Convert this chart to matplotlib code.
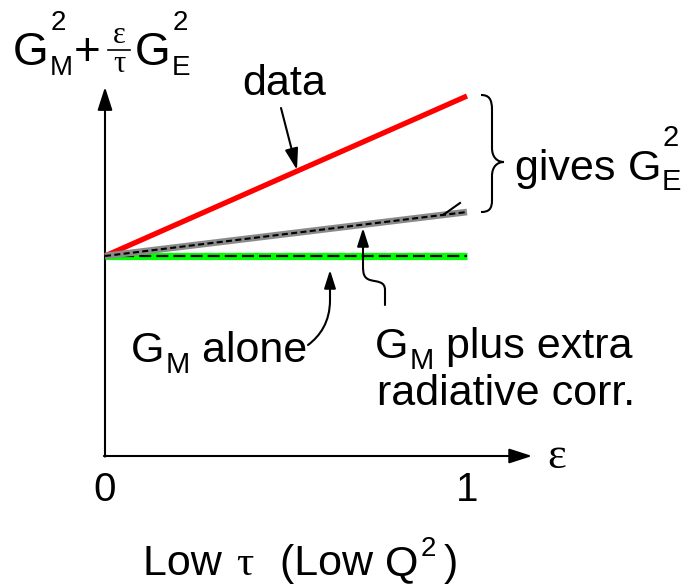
import matplotlib
matplotlib.use("Agg")
import matplotlib.pyplot as plt
from matplotlib.path import Path
from matplotlib.patches import PathPatch, FancyArrowPatch

plt.rcParams["font.family"] = ["Liberation Sans", "DejaVu Sans"]

# epsilon range and the three straight-line cross sections
eps = [0.0, 1.0]
data_line = [1.0, 1.80]        # measured: G_M^2 + (eps/tau) G_E^2
gm_radcorr = [1.0, 1.22]       # G_M plus extra radiative correction
gm_alone = [1.0, 1.0]          # G_M alone
tick_vals = [0, 1]
tick_labels = ["0", "1"]

W, H = 690, 585
fig = plt.figure(figsize=(W / 100, H / 100), dpi=100)
ax = fig.add_axes([0, 0, 1, 1])
ax.set_xlim(-105 / 362, (W - 105) / 362)
ax.set_ylim(-(H - 456) / 200, 456 / 200)
ax.axis("off")
renderer = fig.canvas.get_renderer()
FT = fig.transFigure
LW = 1.5
SANS = "Liberation Sans"
SERIF = "Liberation Serif"


def px(x, y):
    """Figure-fraction position from pixel coordinates (top-left origin)."""
    return (x / W, 1 - y / H)


def put(x, y, s, fs, family=SANS, ha="left"):
    t = fig.text(*px(x, y), s, fontsize=fs, family=family, ha=ha, va="baseline")
    return t.get_window_extent(renderer).x1


def sym(x, y, base, sub, sup, fs, sfs, sub_dy=10, sup_dy=-35):
    """Letter with stacked subscript and superscript; returns right edge."""
    xe = put(x, y, base, fs)
    r1 = put(xe + 1, y + sub_dy, sub, sfs) if sub else xe
    r2 = put(xe + 2, y + sup_dy, sup, sfs) if sup else xe
    return max(r1, r2)


# axes with arrow heads
astyle = "-|>,head_length=1.4,head_width=0.45"
ax.annotate("", xy=(1.18, 0), xytext=(-0.003, 0),
            arrowprops=dict(arrowstyle=astyle, lw=LW, color="k",
                            shrinkA=0, shrinkB=0, mutation_scale=10))
ax.annotate("", xy=(0, 1.845), xytext=(0, -0.003),
            arrowprops=dict(arrowstyle=astyle, lw=LW, color="k",
                            shrinkA=0, shrinkB=0, mutation_scale=10))

# the three lines
ax.plot(eps, data_line, color="#ff0000", lw=3.8, solid_capstyle="butt", zorder=3)
ax.plot(eps, gm_alone, color="#00ff00", lw=5.2, solid_capstyle="butt", zorder=3)
ax.plot(eps, gm_alone, color="k", lw=1.6, dashes=(5.4, 2.3), zorder=4)
ax.plot(eps, gm_radcorr, color="#8a8a8a", lw=4.8, solid_capstyle="butt", zorder=5)
ax.plot(eps, gm_radcorr, color="k", lw=1.5, dashes=(2.9, 1.6), zorder=6)

# tick labels on the epsilon axis
for v, lab in zip(tick_vals, tick_labels):
    ax.text(v, -0.225, lab, ha="center", va="baseline", fontsize=29)

# vertical-axis title: G_M^2 + (eps/tau) G_E^2
xe = sym(13, 65, "G", "M", "2", 33, 20)
put(74, 65, "+", 33)
fig.lines.append(plt.Line2D([108 / W, 130 / W], [1 - 50 / H, 1 - 50 / H],
                            transform=FT, color="k", lw=1.2))
put(119, 43, "\u03b5", 22, SERIF, ha="center")
put(119, 72, "\u03c4", 22, SERIF, ha="center")
sym(135, 65, "G", "E", "2", 33, 20)

# horizontal-axis symbol and caption
put(547, 468, "\u03b5", 32, SERIF)
x = put(143, 575, "Low ", 31)
x = put(x + 2, 575, "\u03c4", 31, SERIF)
x = put(x + 27, 575, "(Low ", 31)
x = sym(x, 575, "Q", None, "2", 31, 20, sup_dy=-19)
put(x + 8, 575, ")", 31)

fs = 31
put(242, 95, "data", fs)
x = put(515, 180, "gives ", fs)
sym(x, 180, "G", "E", "2", fs, 21, sub_dy=10, sup_dy=-34)
x = sym(131, 362, "G", "M", None, fs, 21, sub_dy=11)
put(x, 362, " alone", fs)
x = sym(375, 358, "G", "M", None, fs, 21, sub_dy=11)
put(x, 358, " plus extra", fs)
put(377, 405, "radiative corr.", fs)

# pointer from "data"
fig.patches.append(FancyArrowPatch(px(281, 108), px(297, 170), transform=FT,
                                   arrowstyle="-|>,head_length=1.3,head_width=0.4",
                                   mutation_scale=10, lw=LW, color="k",
                                   shrinkA=0, shrinkB=0))


def curve_arrow(points, codes):
    path = Path([px(*p) for p in points], codes)
    fig.patches.append(FancyArrowPatch(path=path, transform=FT,
                                       arrowstyle="-|>,head_length=1.1,head_width=0.35",
                                       mutation_scale=10, lw=LW, color="k"))


C4, L2, M0 = Path.CURVE4, Path.LINETO, Path.MOVETO
# pointer from "G_M alone"
curve_arrow([(308, 345), (320, 336), (330, 322), (330, 300), (330, 270)],
            [M0, C4, C4, C4, L2])
# pointer from "G_M plus extra radiative corr."
curve_arrow([(385, 305), (385, 290), (385, 281), (377, 282), (370, 280),
             (364, 278), (363, 274), (363, 266), (363, 228)],
            [M0, L2, C4, C4, C4, C4, C4, C4, L2])

# short stroke near the end of the grey line
fig.lines.append(plt.Line2D([443 / W, 460 / W], [1 - 215 / H, 1 - 203 / H],
                            transform=FT, color="k", lw=LW))

# curly brace spanning the difference
brace = [(481, 95), (489, 95), (492, 99), (492, 110), (492, 148),
         (492, 157), (497, 162), (504, 162),
         (497, 162), (492, 167), (492, 176), (492, 200),
         (492, 209), (489, 212), (481, 212)]
bcodes = [M0, C4, C4, C4, L2, C4, C4, C4, C4, C4, C4, L2, C4, C4, C4]
fig.patches.append(PathPatch(Path([px(*p) for p in brace], bcodes), transform=FT,
                             fill=False, lw=LW, color="k"))

fig.savefig("out.png", dpi=100)
